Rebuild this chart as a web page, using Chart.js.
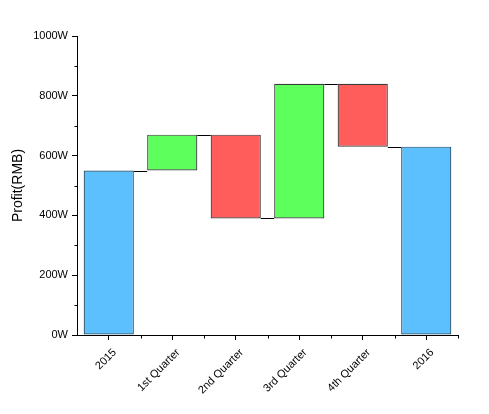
<!DOCTYPE html>
<html><head><meta charset="utf-8">
<script src="https://cdn.jsdelivr.net/npm/chart.js@4/dist/chart.umd.min.js"></script>
<style>html,body{margin:0;padding:0;background:#fff}#wrap{width:489px;height:414px}</style>
</head><body><div id="wrap"><canvas id="c" width="489" height="414"></canvas></div>
<script>
const categories = ['2015','1st Quarter','2nd Quarter','3rd Quarter','4th Quarter','2016'];
const barLow  = [0, 550, 390, 390, 630, 0];
const barHigh = [550, 670, 670, 840, 840, 630];
const barKind = ['total','up','down','up','down','total'];
const yTickValues = [0, 200, 400, 600, 800, 1000];

const fillFor = {total:'#5CC0FF', up:'#5CFF5C', down:'#FF5C5C'};
const edgeFor = {total:'#1E4A66', up:'#3A3A3A', down:'#3A3A3A'};

const helpers = {
  id:'helpers',
  afterDatasetsDraw(chart){
    const ctx = chart.ctx;
    const meta = chart.getDatasetMeta(0);
    const y = chart.scales.y, x = chart.scales.x;
    ctx.save();
    ctx.strokeStyle = '#000';
    ctx.lineWidth = 1;
    for (let i = 0; i < meta.data.length - 1; i++) {
      const a = meta.data[i], b = meta.data[i+1];
      const level = barKind[i+1]==='total' ? barHigh[i+1] : (barKind[i]==='down' ? barLow[i] : barHigh[i]);
      const py = Math.round(y.getPixelForValue(level)) + 0.5;
      ctx.beginPath();
      ctx.moveTo(a.x + a.width/2, py);
      ctx.lineTo(b.x - b.width/2, py);
      ctx.stroke();
    }
    const left = Math.round(x.left) + 0.5;
    for (let v = 100; v < 1000; v += 200) {
      const py = Math.round(y.getPixelForValue(v)) + 0.5;
      ctx.beginPath(); ctx.moveTo(left, py); ctx.lineTo(left - 3, py); ctx.stroke();
    }
    const bottom = Math.round(y.bottom) + 0.5;
    for (let i = 1; i <= categories.length; i++) {
      const px = Math.round(x.getPixelForValue(i - 0.5)) + 0.5;
      ctx.beginPath(); ctx.moveTo(px, bottom); ctx.lineTo(px, bottom + 3); ctx.stroke();
    }
    ctx.restore();
  }
};

new Chart(document.getElementById('c'), {
  type:'bar',
  data:{
    labels: categories,
    datasets:[{
      data: barLow.map((lo,i)=>[lo, barHigh[i]]),
      backgroundColor: barKind.map(k=>fillFor[k]),
      borderColor: barKind.map(k=>edgeFor[k]),
      borderWidth: 1.2,
      borderSkipped: false,
      barPercentage: 0.79,
      categoryPercentage: 1
    }]
  },
  options:{
    responsive:false,
    animation:false,
    devicePixelRatio:1,
    layout:{padding:{top:36,right:31,left:10,bottom:0}},
    plugins:{legend:{display:false},tooltip:{enabled:false}},
    scales:{
      x:{
        offset:true,
        grid:{display:true,drawOnChartArea:false,drawTicks:true,tickLength:5,color:'#000',offset:false},
        border:{display:true,color:'#000',width:1},
        ticks:{color:'#000',font:{family:'Liberation Sans, Arial',size:11},maxRotation:45,minRotation:45,padding:6,labelOffset:6},
        afterFit(s){ s.height = 414 - 335; }
      },
      y:{
        min:0,max:1000,
        afterBuildTicks(s){ s.ticks = yTickValues.map(v=>({value:v})); },
        grid:{display:true,drawOnChartArea:false,drawTicks:true,tickLength:5,color:'#000'},
        border:{display:true,color:'#000',width:1},
        ticks:{color:'#000',font:{family:'Liberation Sans, Arial',size:11},padding:4,callback:v=>v+'W'},
        title:{display:true,text:'Profit(RMB)',color:'#000',font:{family:'Liberation Sans, Arial',size:14},padding:{top:0,bottom:4}},
        afterFit(s){ s.width = 67; }
      }
    }
  },
  plugins:[helpers]
});
</script></body></html>
